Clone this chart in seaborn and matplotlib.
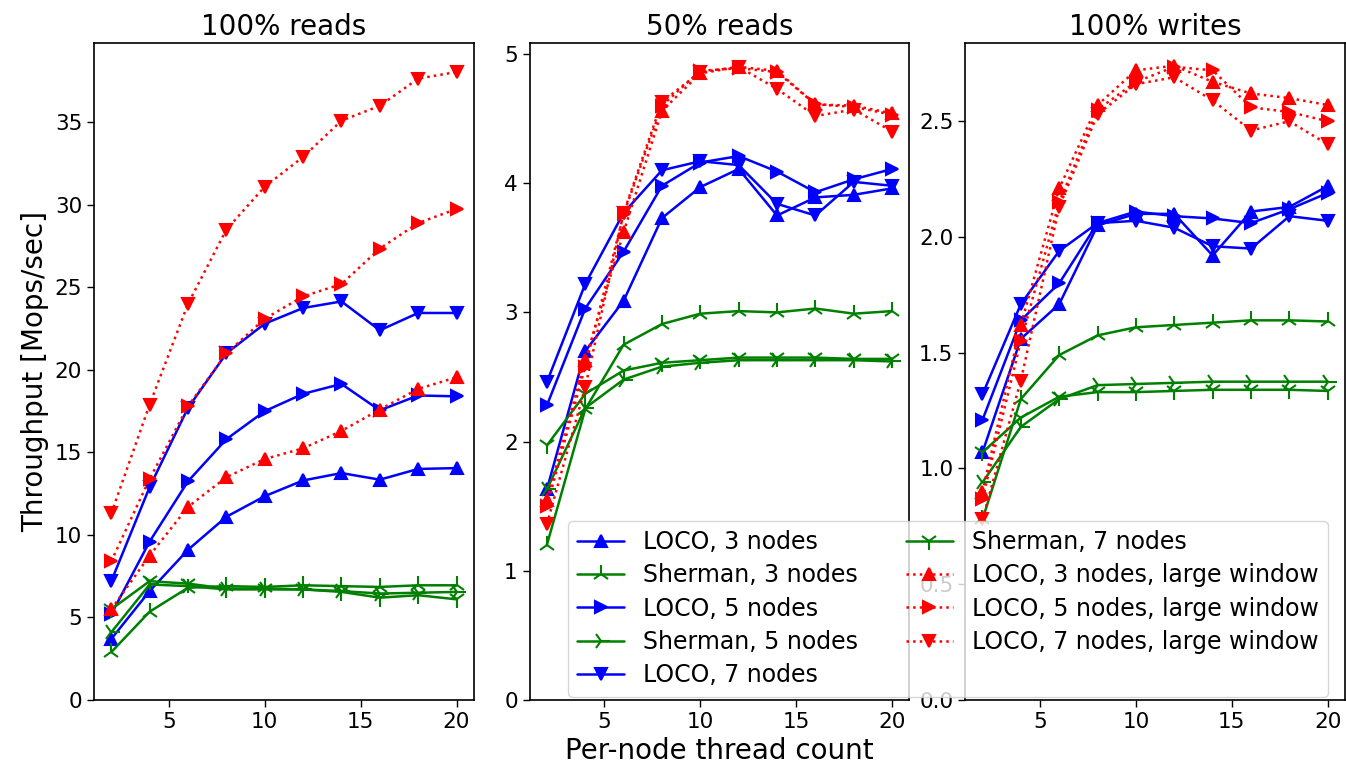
import matplotlib
matplotlib.use("Agg")
import matplotlib.pyplot as plt
from matplotlib.ticker import MultipleLocator, FormatStrFormatter
import seaborn as sns

threads = [2, 4, 6, 8, 10, 12, 14, 16, 18, 20]
panel_titles = ["100% reads", "50% reads", "100% writes"]
series_labels = ["LOCO, 3 nodes", "Sherman, 3 nodes", "LOCO, 5 nodes", "Sherman, 5 nodes",
                 "LOCO, 7 nodes", "Sherman, 7 nodes", "LOCO, 3 nodes, large window",
                 "LOCO, 5 nodes, large window", "LOCO, 7 nodes, large window"]

# 100% reads
r100_loco3 = [3.7, 6.6, 9.1, 11.1, 12.35, 13.3, 13.75, 13.35, 14.0, 14.05]
r100_sherman3 = [2.9, 5.35, 6.8, 6.9, 6.85, 6.95, 6.9, 6.85, 6.95, 6.95]
r100_loco5 = [5.2, 9.6, 13.25, 15.8, 17.5, 18.55, 19.15, 17.55, 18.45, 18.4]
r100_sherman5 = [4.1, 7.0, 6.9, 6.7, 6.7, 6.7, 6.6, 6.45, 6.5, 6.55]
r100_loco7 = [7.2, 12.9, 17.7, 21.0, 22.8, 23.75, 24.15, 22.4, 23.45, 23.45]
r100_sherman7 = [5.5, 7.2, 7.05, 6.75, 6.75, 6.7, 6.55, 6.2, 6.35, 6.1]
r100_lw3 = [5.5, 8.75, 11.7, 13.5, 14.6, 15.25, 16.3, 17.6, 18.85, 19.55]
r100_lw5 = [8.4, 13.4, 17.8, 21.0, 23.1, 24.45, 25.2, 27.35, 28.9, 29.75]
r100_lw7 = [11.3, 17.9, 24.0, 28.5, 31.1, 32.9, 35.1, 36.0, 37.65, 38.05]

# 50% reads
r50_loco3 = [1.63, 2.70, 3.09, 3.73, 3.97, 4.11, 3.75, 3.89, 3.91, 3.96]
r50_sherman3 = [1.2, 2.25, 2.75, 2.91, 2.99, 3.01, 3.0, 3.03, 2.99, 3.01]
r50_loco5 = [2.28, 3.03, 3.47, 3.98, 4.16, 4.21, 4.09, 3.93, 4.03, 4.11]
r50_sherman5 = [1.63, 2.26, 2.48, 2.58, 2.61, 2.63, 2.63, 2.63, 2.63, 2.62]
r50_loco7 = [2.46, 3.22, 3.77, 4.10, 4.17, 4.14, 3.84, 3.75, 4.01, 3.98]
r50_sherman7 = [1.97, 2.37, 2.55, 2.61, 2.63, 2.65, 2.65, 2.65, 2.64, 2.64]
r50_lw3 = [1.55, 2.63, 3.62, 4.56, 4.85, 4.90, 4.87, 4.61, 4.60, 4.54]
r50_lw5 = [1.50, 2.58, 3.76, 4.60, 4.87, 4.89, 4.86, 4.61, 4.59, 4.53]
r50_lw7 = [1.36, 2.42, 3.77, 4.63, 4.86, 4.90, 4.73, 4.52, 4.57, 4.40]

# 100% writes
w100_loco3 = [1.07, 1.56, 1.71, 2.05, 2.10, 2.10, 1.92, 2.11, 2.13, 2.22]
w100_sherman3 = [0.78, 1.30, 1.49, 1.575, 1.61, 1.62, 1.63, 1.64, 1.64, 1.635]
w100_loco5 = [1.21, 1.64, 1.80, 2.06, 2.11, 2.09, 2.08, 2.06, 2.12, 2.19]
w100_sherman5 = [0.94, 1.18, 1.30, 1.36, 1.365, 1.37, 1.375, 1.375, 1.375, 1.375]
w100_loco7 = [1.32, 1.71, 1.94, 2.06, 2.07, 2.04, 1.96, 1.95, 2.09, 2.07]
w100_sherman7 = [1.07, 1.22, 1.31, 1.33, 1.33, 1.335, 1.34, 1.34, 1.34, 1.335]
w100_lw3 = [0.90, 1.62, 2.21, 2.57, 2.72, 2.74, 2.67, 2.62, 2.60, 2.57]
w100_lw5 = [0.87, 1.55, 2.15, 2.55, 2.67, 2.735, 2.72, 2.56, 2.54, 2.50]
w100_lw7 = [0.78, 1.38, 2.13, 2.53, 2.66, 2.69, 2.59, 2.46, 2.50, 2.40]

panels = [
    [r100_loco3, r100_sherman3, r100_loco5, r100_sherman5, r100_loco7, r100_sherman7, r100_lw3, r100_lw5, r100_lw7],
    [r50_loco3, r50_sherman3, r50_loco5, r50_sherman5, r50_loco7, r50_sherman7, r50_lw3, r50_lw5, r50_lw7],
    [w100_loco3, w100_sherman3, w100_loco5, w100_sherman5, w100_loco7, w100_sherman7, w100_lw3, w100_lw5, w100_lw7],
]

styles = [
    dict(color="b", marker="^", linestyle="-", markersize=8),
    dict(color="g", marker="2", linestyle="-", markersize=13),
    dict(color="b", marker=">", linestyle="-", markersize=8),
    dict(color="g", marker="4", linestyle="-", markersize=13),
    dict(color="b", marker="v", linestyle="-", markersize=8),
    dict(color="g", marker="1", linestyle="-", markersize=13),
    dict(color="r", marker="^", linestyle=":", markersize=8),
    dict(color="r", marker=">", linestyle=":", markersize=8),
    dict(color="r", marker="v", linestyle=":", markersize=8),
]

sns.set_style("ticks")
plt.rcParams["font.family"] = ["DejaVu Sans"]
plt.rcParams["axes.edgecolor"] = "black"
plt.rcParams["xtick.color"] = "black"
plt.rcParams["ytick.color"] = "black"
plt.rcParams["text.color"] = "black"
plt.rcParams["axes.labelcolor"] = "black"

fig, axes = plt.subplots(1, 3, figsize=(13.46, 7.68), dpi=100)
fig.subplots_adjust(left=94 / 1346, right=1345 / 1346, top=1 - 43 / 768, bottom=1 - 700 / 768, wspace=0.147)

locators = [5, 1, 0.5]
for ax, data, title, loc in zip(axes, panels, panel_titles, locators):
    for vals, lab, st in zip(data, series_labels, styles):
        sns.lineplot(x=threads, y=vals, ax=ax, label=lab, color=st["color"], marker=st["marker"],
                     linestyle=st["linestyle"], markersize=st["markersize"], linewidth=1.8,
                     markeredgecolor=st["color"], markeredgewidth=1.5)
    ax.set_ylim(bottom=0)
    ax.yaxis.set_major_locator(MultipleLocator(loc))
    ax.xaxis.set_major_locator(MultipleLocator(5))
    ax.set_title(title, fontsize=20)
    ax.tick_params(labelsize=15.5, direction="out", length=5, width=1)
    for sp in ax.spines.values():
        sp.set_visible(True)
        sp.set_linewidth(1.2)
        sp.set_color("black")
    ax.legend().remove()
    ax.set_xlabel("")
    ax.set_ylabel("")

axes[2].yaxis.set_major_formatter(FormatStrFormatter("%.1f"))
axes[0].set_ylabel("Throughput [Mops/sec]", fontsize=20)
axes[1].set_xlabel("Per-node thread count", fontsize=20)

handles, labels = axes[0].get_legend_handles_labels()
fig.legend(handles, labels, ncol=2, loc="upper left", bbox_to_anchor=(556 / 1346, 1 - 509 / 768),
           fontsize=17, labelspacing=0.39, frameon=True, framealpha=0.8, edgecolor="0.8",
           fancybox=True)

fig.savefig("out.png", dpi=100)
